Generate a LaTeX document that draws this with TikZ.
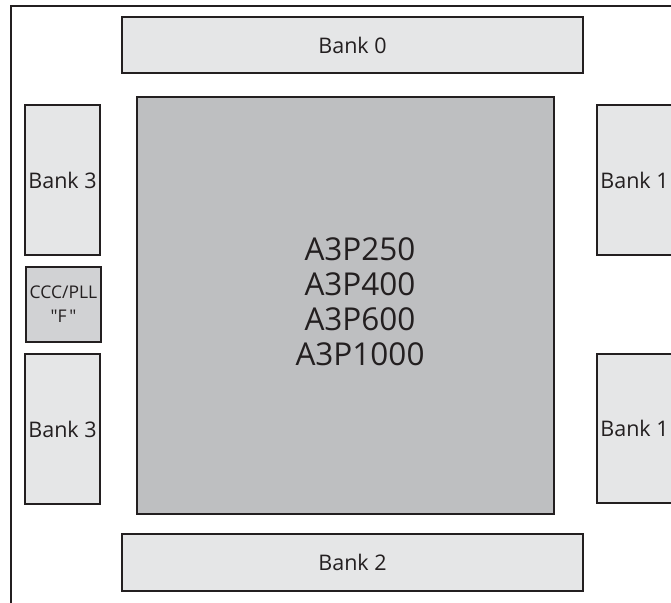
\documentclass[tikz,border=0pt]{standalone}
\usepackage{fontspec}
\setmainfont{Open Sans}
\definecolor{bankgray}{HTML}{E5E6E7}
\definecolor{pllgray}{HTML}{D1D2D4}
\definecolor{coregray}{HTML}{BEBFC1}
\definecolor{edge}{HTML}{231F20}
\tikzset{
  bank/.style={draw=edge, fill=bankgray, line width=1.6pt, inner sep=0pt, font=\fontsize{21.5}{24}\selectfont, text=edge},
  core/.style={draw=edge, fill=coregray, line width=1.6pt, inner sep=0pt},
}
\begin{document}
\begin{tikzpicture}[x=1pt, y=-1pt]
  \useasboundingbox (0,0) rectangle (671,602);
  \clip (0,0) rectangle (671,602);
  % outer frame (only top and left edges visible)
  \draw[edge, line width=1.6pt] (680,6) -- (11,6) -- (11,610);

  % I/O banks
  \node[bank, minimum width=461pt, minimum height=56pt] (bank0) at (352.5,45) {Bank 0};
  \node[bank, minimum width=461pt, minimum height=57pt] (bank2) at (352.5,562.5) {Bank 2};
  \node[bank, minimum width=75pt, minimum height=150pt] (bank3a) at (62.5,180) {Bank 3};
  \node[bank, minimum width=75pt, minimum height=150pt] (bank3b) at (62.5,429) {Bank 3};
  \node[bank, minimum width=75pt, minimum height=150pt] (bank1a) at (634.5,180) {Bank 1};
  \node[bank, minimum width=75pt, minimum height=149pt] (bank1b) at (634.5,428.5) {Bank 1};

  % CCC/PLL block
  \node[bank, fill=pllgray, minimum width=75pt, minimum height=75pt, align=center,
        font=\fontsize{17.5}{24}\selectfont] (pll) at (63.5,304.5)
        {CCC/PLL\\\textquotedbl F\,\textquotedbl};

  % core
  \node[core, minimum width=417pt, minimum height=417pt] (core) at (345.5,305.5) {};
  \node[align=center, text=edge, font=\fontsize{31.5}{35}\selectfont] (devices) at (360,302)
    {A3P250\\A3P400\\A3P600\\A3P1000};
\end{tikzpicture}
\end{document}
